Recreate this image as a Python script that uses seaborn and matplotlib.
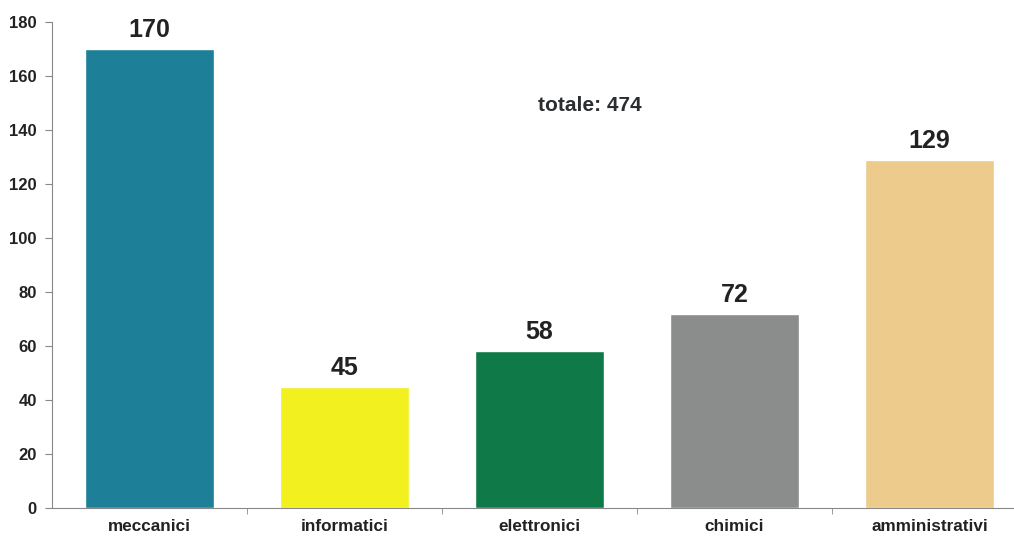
import pandas as pd
import matplotlib.pyplot as plt
import seaborn as sns

categorie = ['meccanici', 'informatici', 'elettronici', 'chimici', 'amministrativi']
valori = [170, 45, 58, 72, 129]
colori = ['#1E7F98', '#F2F01E', '#0F7A47', '#8B8D8D', '#EDCB8C']
totale = sum(valori)

df = pd.DataFrame({'categoria': categorie, 'valore': valori})

sns.set_style('ticks')
plt.rcParams['font.family'] = ['Liberation Sans', 'DejaVu Sans']

fig = plt.figure(figsize=(10.14, 5.36), dpi=100)
ax = fig.add_axes([52 / 1014, 28 / 536, 1 - 52 / 1014 + 0.01, 486 / 536])

sns.barplot(data=df, x='categoria', y='valore', hue='categoria', palette=colori,
            width=0.665, legend=False, saturation=1, ax=ax)

# etichette sopra le barre
for cont in ax.containers:
    ax.bar_label(cont, padding=5, fontsize=18, fontweight='bold', color='#222222')

ax.text(2.26, 149, f'totale: {totale}', ha='center', va='center',
        fontsize=15, fontweight='bold', color='#2a2e30')

ax.set_ylim(0, 180)
ax.set_yticks(range(0, 181, 20))
ax.set_xlim(-0.5, 4.485)
ax.set_xlabel('')
ax.set_ylabel('')

# tick x tra le categorie
ax.set_xticks([i + 0.5 for i in range(4)], minor=True)
ax.tick_params(axis='x', which='major', length=0, pad=8)
ax.tick_params(axis='x', which='minor', length=4, color='#888888')
ax.tick_params(axis='y', length=5, color='#888888', pad=6)
for lbl in ax.get_xticklabels() + ax.get_yticklabels():
    lbl.set_fontweight('bold')
    lbl.set_color('#222222')
for lbl in ax.get_xticklabels():
    lbl.set_fontsize(12.3)
for lbl in ax.get_yticklabels():
    lbl.set_fontsize(12)

sns.despine(ax=ax, top=True, right=True)
ax.spines['left'].set_color('#888888')
ax.spines['bottom'].set_color('#888888')

fig.savefig('out.png', dpi=100)
